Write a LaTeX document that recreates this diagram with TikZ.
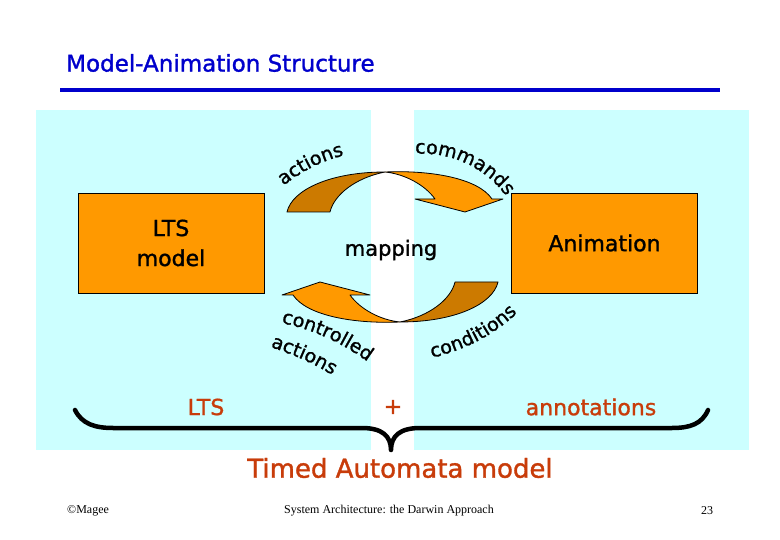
\documentclass[tikz,border=0pt]{standalone}
\usepackage{fontspec}
\setmainfont{DejaVu Sans}[FakeBold=1.3]
\newfontfamily\footfont{Liberation Serif}
\usetikzlibrary{decorations.text}
\definecolor{cyanbg}{RGB}{204,255,255}
\definecolor{boxorange}{RGB}{255,153,0}
\definecolor{arrowdark}{RGB}{204,122,0}
\definecolor{titleblue}{RGB}{0,0,204}
\definecolor{redbrown}{RGB}{200,60,10}
\newcommand{\cfont}{\fontsize{19}{19}\selectfont}
\tikzset{
  boxnode/.style={draw=black, line width=0.8pt, fill=boxorange, minimum width=186, minimum height=100, inner sep=0pt, align=center, font=\fontsize{22}{30}\selectfont},
  plainlabel/.style={inner sep=0pt, font=\fontsize{21}{21}\selectfont},
  annlabel/.style={inner sep=0pt, text=redbrown, font=\fontsize{22}{22}\selectfont},
  lightpart/.style={fill=boxorange, draw=black, line width=0.8pt, line join=round},
  darkpart/.style={fill=arrowdark, draw=black, line width=0.8pt, line join=round},
  curvetext/.style={decorate, decoration={text along path, text align=center, text={|\cfont|#1}}},
  bracestyle/.style={draw=black, line width=4.5pt, line cap=round, line join=round},
  footer/.style={inner sep=0pt, font=\footfont\fontsize{12}{12}\selectfont}
}
\begin{document}
\begin{tikzpicture}[x=1pt, y=-1pt]
\useasboundingbox (0,0) rectangle (780,540);
\fill[white] (0,0) rectangle (780,540);
% backgrounds
\fill[cyanbg] (36,110) rectangle (371,450);
\fill[cyanbg] (414,110) rectangle (749,450);
% title
\node[anchor=west, inner sep=0pt, text=titleblue, font=\fontsize{23}{23}\selectfont] (title) at (66,63) {Model-Animation Structure};
\draw[titleblue, line width=4pt] (60,90) -- (720,90);
% boxes
\node[boxnode] (lts) at (171,243) {LTS\\model};
\node[boxnode] (anim) at (604.5,243) {Animation};
\node[plainlabel] (map) at (391,250) {mapping};
% top arrow
\begin{scope}
\draw[darkpart] (287,212) .. controls (292,190) and (330,172) .. (385,172)
  .. controls (355,178) and (334,195) .. (330,212) -- cycle;
\draw[lightpart] (385,172) .. controls (430,170) and (478,178) .. (492,199)
  -- (503,199) -- (465,212) -- (415,199) -- (435,199)
  .. controls (425,185) and (405,174) .. (385,172) -- cycle;
\end{scope}
% bottom arrow (point reflection of the top arrow)
\begin{scope}[rotate around={180:(392.5,247)}]
\draw[darkpart] (287,212) .. controls (292,190) and (330,172) .. (385,172)
  .. controls (355,178) and (334,195) .. (330,212) -- cycle;
\draw[lightpart] (385,172) .. controls (430,170) and (478,178) .. (492,199)
  -- (503,199) -- (465,212) -- (415,199) -- (435,199)
  .. controls (425,185) and (405,174) .. (385,172) -- cycle;
\end{scope}
% curved labels
\path[curvetext={actions}] (275,193) .. controls (295,175) and (321,159) .. (355,153);
\path[curvetext={commands}] (412,154) .. controls (448,151) and (486,166) .. (508,199);
\path[curvetext={controlled}] (276,322) .. controls (305,327) and (340,340) .. (372,365);
\path[curvetext={actions}] (262,344) .. controls (285,352) and (310,360) .. (340,380);
\path[curvetext={conditions}] (423,360) .. controls (455,353) and (492,340) .. (524,306);
% bottom labels
\node[annlabel] (ltslab) at (206,407) {LTS};
\node[annlabel] (plus) at (393,407) {+};
\node[annlabel] (annot) at (591,407) {annotations};
% brace
\draw[bracestyle] (75,410) .. controls (82,424) and (95,428) .. (113,428) -- (362,428)
  .. controls (382,428) and (391,436) .. (391,450)
  .. controls (391,436) and (400,428) .. (420,428) -- (672,428)
  .. controls (690,428) and (702,424) .. (708,410);
\node[inner sep=0pt, text=redbrown, font=\fontsize{26}{26}\selectfont] (timed) at (400,468) {Timed Automata model};
% footer
\node[footer, anchor=west] (copy) at (67,511) {©Magee};
\node[footer] (foot) at (389,511) {System Architecture: the Darwin Approach};
\node[footer] (page) at (707,511) {23};
\end{tikzpicture}
\end{document}
